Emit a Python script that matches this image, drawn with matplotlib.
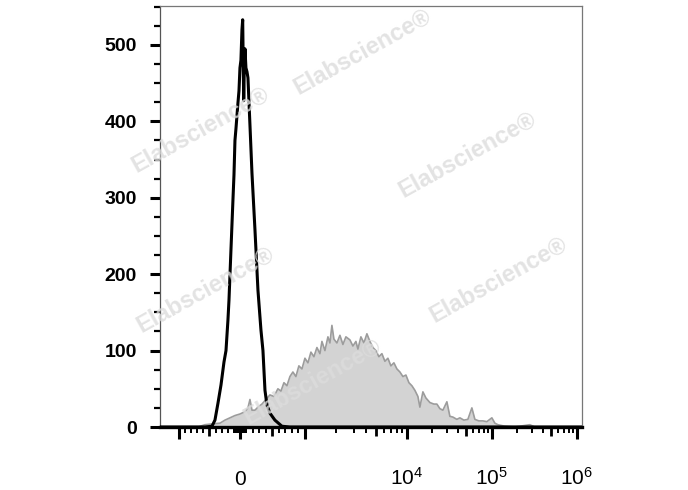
import numpy as np
import matplotlib.pyplot as plt

plt.rcParams['font.family'] = ['Liberation Sans', 'DejaVu Sans']
plt.rcParams['mathtext.fontset'] = 'custom'
plt.rcParams['mathtext.rm'] = 'Liberation Sans'
plt.rcParams['mathtext.it'] = 'Liberation Sans'

# unstained control (black outline), x in fluorescence units, y = count
black_x = [-2000, -574, -459, -410, -361, -311, -262, -229, -197, -180, -148, -115, -98, -82,
           -66, -33, -16, 0, 15, 31, 42, 51, 58, 69, 77, 92, 108, 123, 154, 185, 231, 277,
           323, 354, 385, 415, 462, 538, 646, 769, 2e6]
black_y = [0, 0, 1, 9, 31, 55, 85, 100, 140, 166, 231, 297, 330, 375,
           390, 424, 440, 470, 480, 520, 533, 470, 427, 480, 495, 470, 465, 457, 395, 332, 258, 179,
           127, 100, 48, 29, 18, 9, 1, 0, 0]

# stained sample (grey filled)
gray_x = [-688, -574, -459, -328, -246, -164, -82, 0,
          77, 123, 154, 185, 231, 277, 338, 400, 461, 523,
          584, 631, 677, 723, 769, 815, 861, 907, 954, 1000,
          1070, 1145, 1225, 1311, 1403, 1468, 1571, 1681, 1758, 1839,
          1924, 2059, 2204, 2358, 2523, 2762, 2955, 3162, 3308, 3540,
          3788, 4053, 4337, 4642, 4967, 5315, 5687, 6085, 6512, 6968,
          7457, 7980, 8540, 9140, 9780, 10560, 11450, 12420, 13470, 14220,
          15430, 16730, 18650, 20780, 22540, 24450, 26520, 29550, 32050, 34760,
          38730, 42030, 46840, 52190, 58170, 63100, 70300, 78400, 87300, 100000,
          108500, 117700, 142200, 186000, 280000, 320000]
gray_y = [0, 3, 4, 5, 9, 12, 15, 17,
          20, 25, 36, 22, 22, 26, 30, 36, 42, 40,
          50, 47, 58, 54, 66, 72, 66, 80, 76, 90,
          84, 98, 92, 104, 96, 112, 100, 118, 110, 133,
          115, 110, 120, 108, 118, 114, 106, 112, 102, 118,
          110, 122, 112, 104, 100, 92, 96, 86, 90, 80,
          84, 76, 72, 66, 68, 58, 54, 48, 40, 26,
          46, 38, 32, 30, 30, 24, 22, 33, 14, 13,
          10, 12, 9, 10, 25, 10, 8, 8, 7, 12,
          5, 3, 1, 0, 3, 0]

x_labels = ['0', '$10^4$', '$10^5$', '$10^6$']
x_label_vals = [0, 1e4, 1e5, 1e6]
y_ticks = [0, 100, 200, 300, 400, 500]


# biexponential-like display: linear around zero, log above 1000
def fwd(x):
    x = np.asarray(x, dtype=float)
    a = np.abs(x)
    s = np.where(x >= 0, 65.0, 61.0)
    la = np.log10(np.maximum(a, 1e-9))
    u = np.where(a <= 1000, a / 1000 * s,
                 np.where(a <= 1e4, s + 102 * (la - 3), s + 102 + 85 * (la - 4)))
    return np.sign(x) * u


def inv(v):
    v = np.asarray(v, dtype=float)
    a = np.abs(v)
    s = np.where(v >= 0, 65.0, 61.0)
    with np.errstate(over='ignore'):
        x = np.where(a <= s, a / s * 1000,
                     np.where(a <= s + 102, 1000 * 10 ** ((a - s) / 102),
                              1e4 * 10 ** ((a - s - 102) / 85)))
    return np.sign(v) * x


fig = plt.figure(figsize=(6.88, 4.90), dpi=100)
ax = fig.add_axes([160 / 688, 1 - 427 / 490, 422 / 688, 421 / 490])
ax.set_xscale('function', functions=(fwd, inv))

ax.fill_between(gray_x, gray_y, color='#d3d3d3', lw=0, zorder=2)
ax.plot(gray_x, gray_y, color='#9c9c9c', lw=1.2, zorder=3)
ax.plot(black_x, black_y, color='black', lw=2.2, zorder=4)

ax.set_xlim(-1535, 1.15e6)
ax.set_ylim(0, 551)

# x ticks: long / medium / short
long_t = [-1000, 0, 1000, 1e4, 1e5, 1e6]
med_t = [-500, 500, 5e3, 5e4, 5e5]
major = sorted(long_t + med_t)
labels = []
for v in major:
    labels.append(x_labels[x_label_vals.index(v)] if v in x_label_vals else '')
ax.set_xticks(major)
ax.set_xticklabels(labels)
minor = [k * 10 * sgn for k in range(1, 10) for sgn in (-1, 1)]
minor += [k * 100 * sgn for k in range(1, 10) if k != 5 for sgn in (-1, 1)]
minor += [k * d for d in (1e3, 1e4, 1e5) for k in range(2, 10) if k != 5]
ax.set_xticks(minor, minor=True)
ax.tick_params(axis='x', which='major', direction='out', length=8.6, width=2.2,
               pad=33, labelsize=15, color='black')
ax.tick_params(axis='x', which='minor', direction='out', length=4.3, width=1.4, color='black')
for t, v in zip(ax.xaxis.get_major_ticks(), major):
    if v in med_t:
        t.tick1line.set_markersize(6.5)
        t.tick1line.set_markeredgewidth(2.0)
for lab in ax.get_xticklabels():
    lab.set_verticalalignment('baseline')

ax.set_yticks(y_ticks)
ax.set_yticks(np.arange(25, 551, 25), minor=True)
ax.tick_params(axis='y', which='major', direction='out', length=7.2, width=2.2,
               pad=9.5, labelsize=14)
ax.tick_params(axis='y', which='minor', direction='out', length=4.3, width=1.6)
for lab in ax.get_yticklabels():
    lab.set_fontweight('bold')

ax.spines['bottom'].set_linewidth(2.4)
ax.spines['bottom'].set_color('black')
ax.spines['bottom'].set_zorder(5)
ax.spines['left'].set_linewidth(0.9)
ax.spines['left'].set_color('#555555')
for sp in ('top', 'right'):
    ax.spines[sp].set_linewidth(0.9)
    ax.spines[sp].set_color('#777777')

# watermark
for cx, cy in [(362, 52), (200, 130), (467, 155), (205, 290), (498, 280), (312, 382)]:
    fig.text(cx / 688, 1 - cy / 490, 'Elabscience®', fontsize=17, fontweight='bold',
             color='#dcdcdc', alpha=0.8, rotation=29, ha='center', va='center', zorder=10)

fig.savefig('out.png', dpi=100)
